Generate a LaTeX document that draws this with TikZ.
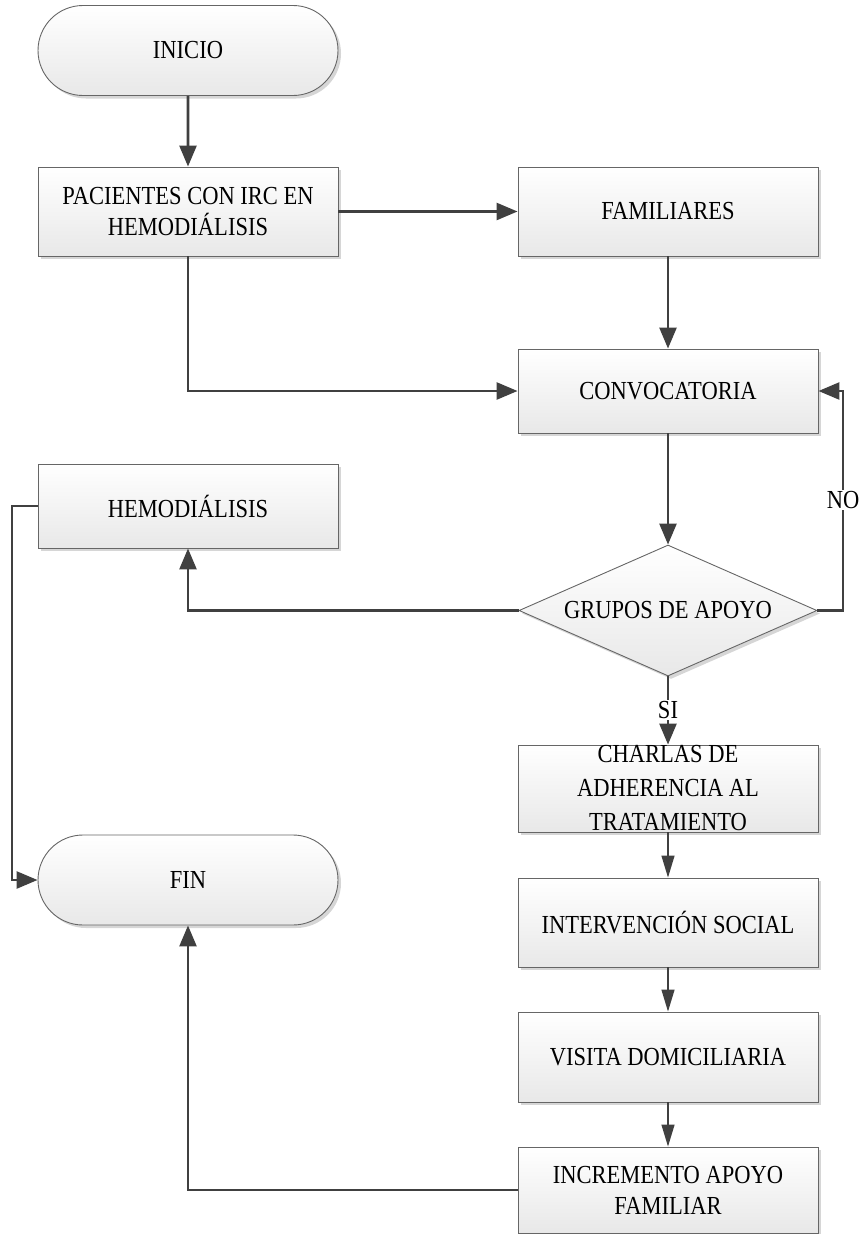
\documentclass[tikz,border=0pt]{standalone}
\usepackage{fontspec}
\setmainfont{Liberation Serif}[FakeStretch=0.866]
\usetikzlibrary{shapes.geometric,shapes.misc,arrows.meta,shadows}
\definecolor{linec}{HTML}{404040}
\definecolor{bordc}{HTML}{666666}
\definecolor{fillb}{HTML}{E8E8E8}
\definecolor{shadc}{HTML}{D6D6D6}
\begin{document}
\begin{tikzpicture}[x=1pt,y=-1pt,
  every node/.style={font=\fontsize{26}{31}\selectfont},
  base/.style={draw=bordc, line width=0.9pt, top color=white, bottom color=fillb,
    drop shadow={shadow xshift=3pt, shadow yshift=-3pt, fill=shadc, opacity=1},
    inner sep=0pt, align=center},
  procbox/.style={base, rectangle, minimum width=300pt, minimum height=88pt},
  term/.style={base, rounded rectangle, minimum width=300pt, minimum height=90pt},
  decis/.style={base, diamond, minimum width=298pt, minimum height=131pt, aspect=2.27},
  conn/.style={draw=linec, line width=2.6pt, -{Triangle[length=21pt,width=17pt]}},
  thinconn/.style={draw=linec, line width=1.3pt, -{Triangle[length=22pt,width=13pt]}},
  lbl/.style={fill=white, inner sep=1.5pt}
]
\useasboundingbox (0,0) rectangle (863,1234);

\node[term] (inicio) at (188,50.5) {INICIO};
\node[procbox, minimum height=89pt] (pac) at (188,211.5) {PACIENTES CON IRC EN\\HEMODIÁLISIS};
\node[procbox, minimum height=89pt] (fam) at (668,211.5) {FAMILIARES};
\node[procbox, minimum height=84pt] (conv) at (668,391) {CONVOCATORIA};
\node[procbox, minimum height=84pt] (hemo) at (188,506) {HEMODIÁLISIS};
\node[decis] (dec) at (668,610.5) {GRUPOS DE APOYO};
\node[procbox, minimum height=87pt, font=\fontsize{26}{34}\selectfont] (charlas) at (668,788.5) {CHARLAS DE\\ADHERENCIA AL\\TRATAMIENTO};
\node[procbox, minimum height=89pt] (interv) at (668,922.5) {INTERVENCIÓN SOCIAL};
\node[procbox, minimum height=90pt] (visita) at (668,1057) {VISITA DOMICILIARIA};
\node[procbox, minimum height=86pt] (incr) at (668,1190) {INCREMENTO APOYO\\FAMILIAR};
\node[term] (fin) at (188,880) {FIN};

\coordinate (nocorner) at (843,610.5);
\coordinate (hemocorner) at (12,506);

\draw[conn] (inicio) -- (pac);
\draw[conn] (pac) -- (fam);
\draw[conn] (pac.south) |- (conv.west);
\draw[conn] (fam) -- (conv);
\draw[conn] (conv) -- (dec);
\draw[conn] (dec.east) -- (nocorner) |- (conv.east);
\draw[conn] (dec.west) -| (hemo.south);
\draw[conn] (dec.south) -- (charlas.north);
\draw[thinconn] (charlas) -- (interv);
\draw[thinconn] (interv) -- (visita);
\draw[thinconn] (visita) -- (incr);
\draw[conn] (hemo.west) -- (hemocorner) |- (fin.west);
\draw[conn] (incr.west) -| (fin.south);

\node[lbl] (nolbl) at (843,500) {NO};
\node[lbl] (silbl) at (668,710) {SI};
\end{tikzpicture}
\end{document}
